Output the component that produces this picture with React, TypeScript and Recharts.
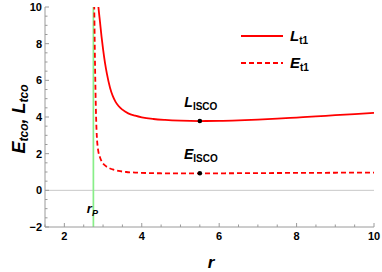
import React from 'react';
import { LineChart, Line, XAxis, YAxis, ReferenceLine, ReferenceDot } from 'recharts';

// L_t1 curve (solid)
const rL = [2.86, 2.88, 2.92, 2.96, 3.0, 3.05, 3.1, 3.18, 3.25, 3.32, 3.4, 3.5, 3.65, 3.83, 4.0, 4.3, 4.6, 5.0, 5.5, 6.0, 6.5, 7.0, 7.5, 8.0, 8.5, 9.0, 9.5, 10];
const lT1 = [10.5, 10.0, 9.2, 8.4, 7.7, 6.95, 6.35, 5.6, 5.15, 4.84, 4.6, 4.4, 4.2, 4.07, 3.98, 3.89, 3.84, 3.8, 3.78, 3.79, 3.82, 3.86, 3.91, 3.97, 4.03, 4.1, 4.16, 4.23];

// E_t1 curve (dashed)
const rE = [2.765, 2.775, 2.79, 2.805, 2.82, 2.84, 2.86, 2.88, 2.92, 2.97, 3.05, 3.15, 3.25, 3.4, 3.6, 3.83, 4.2, 4.6, 5.0, 5.5, 6.0, 7.0, 8.0, 9.0, 10];
const eT1 = [11, 9.6, 7.2, 5.4, 4.0, 2.9, 2.4, 2.1, 1.8, 1.55, 1.36, 1.22, 1.14, 1.06, 1.0, 0.97, 0.94, 0.93, 0.93, 0.93, 0.93, 0.94, 0.95, 0.96, 0.97];

const rIsco = 5.5;
const lIsco = 3.78;
const eIsco = 0.93;
const rP = 2.75;

const xTicks = [1.5, 2, 2.5, 3, 3.5, 4, 4.5, 5, 5.5, 6, 6.5, 7, 7.5, 8, 8.5, 9, 9.5, 10];
const xMajor = [2, 4, 6, 8, 10];
const yTicks = [-2, -1.5, -1, -0.5, 0, 0.5, 1, 1.5, 2, 2.5, 3, 3.5, 4, 4.5, 5, 5.5, 6, 6.5, 7, 7.5, 8, 8.5, 9, 9.5, 10];
const yMajor = [-2, 0, 2, 4, 6, 8, 10];

const lData = rL.map((r, i) => ({ r, v: lT1[i] }));
const eData = rE.map((r, i) => ({ r, v: eT1[i] }));

const FRAME = '#9a9a9a';
const RED = '#ff0000';
const FONT = '"Liberation Sans", Arial, sans-serif';
const tickFont = { fontFamily: FONT, fontWeight: 'bold' as const, fontSize: 11, fill: '#000' };

const fmt = (v: number) => (v < 0 ? '\u2212' + Math.abs(v) : String(v));

const BottomTick = ({ x, y, payload }: any) => {
  const major = xMajor.includes(payload.value);
  return (
    <g>
      <line x1={x} x2={x} y1={y} y2={y - (major ? 4 : 2.5)} stroke={FRAME} />
      {major && (
        <text x={x} y={y + 13} textAnchor="middle" style={tickFont}>
          {fmt(payload.value)}
        </text>
      )}
    </g>
  );
};

const TopTick = ({ x, y, payload }: any) => {
  const major = xMajor.includes(payload.value);
  return <line x1={x} x2={x} y1={y} y2={y + (major ? 4 : 2.5)} stroke={FRAME} />;
};

const LeftTick = ({ x, y, payload }: any) => {
  const major = yMajor.includes(payload.value);
  return (
    <g>
      <line x1={x} x2={x + (major ? 4 : 2.5)} y1={y} y2={y} stroke={FRAME} />
      {major && (
        <text x={x - 3} y={y + 4} textAnchor="end" style={tickFont}>
          {fmt(payload.value)}
        </text>
      )}
    </g>
  );
};

const RightTick = ({ x, y, payload }: any) => {
  const major = yMajor.includes(payload.value);
  return <line x1={x} x2={x - (major ? 4 : 2.5)} y1={y} y2={y} stroke={FRAME} />;
};

const IscoLabel = (main: string) => (props: any) => {
  const vb = props.viewBox || {};
  const cx = vb.x + (vb.width || 0) / 2;
  const cy = vb.y + (vb.height || 0) / 2;
  return (
    <text x={cx + 1} y={cy - 14} textAnchor="middle" style={{ fontFamily: FONT, fontWeight: 'bold', fill: '#000' }}>
      <tspan fontSize={14} fontStyle="italic">{main}</tspan>
      <tspan fontSize={10} dy={3}>ISCO</tspan>
    </text>
  );
};

const RpLabel = (props: any) => {
  const vb = props.viewBox || {};
  return (
    <text x={vb.x - 1} y={vb.y + vb.height - 14} textAnchor="middle" style={{ fontFamily: FONT, fontWeight: 'bold', fontStyle: 'italic', fill: '#000' }}>
      <tspan fontSize={13}>r</tspan>
      <tspan fontSize={9} dy={3}>P</tspan>
    </text>
  );
};

export default function App() {
  return (
    <div style={{ position: 'absolute', left: 0, top: 0, width: 382, height: 272, background: '#fff' }}>
      <LineChart width={382} height={272} margin={{ top: 7, right: 8, bottom: 0, left: 0 }}>
        <XAxis
          type="number"
          dataKey="r"
          domain={[1.5, 10]}
          allowDataOverflow
          ticks={xTicks}
          interval={0}
          tickSize={0}
          tickMargin={0}
          tickLine={false}
          tick={<BottomTick />}
          height={45}
          axisLine={{ stroke: FRAME }}
        />
        <XAxis
          xAxisId="top"
          orientation="top"
          type="number"
          dataKey="r"
          domain={[1.5, 10]}
          allowDataOverflow
          ticks={xTicks}
          interval={0}
          tickSize={0}
          tickMargin={0}
          tickLine={false}
          tick={<TopTick />}
          height={0}
          axisLine={{ stroke: FRAME }}
        />
        <YAxis
          type="number"
          domain={[-2, 10]}
          allowDataOverflow
          ticks={yTicks}
          interval={0}
          tickSize={0}
          tickMargin={0}
          tickLine={false}
          tick={<LeftTick />}
          width={45}
          axisLine={{ stroke: FRAME }}
        />
        <YAxis
          yAxisId="right"
          orientation="right"
          type="number"
          domain={[-2, 10]}
          allowDataOverflow
          ticks={yTicks}
          interval={0}
          tickSize={0}
          tickMargin={0}
          tickLine={false}
          tick={<RightTick />}
          width={0}
          axisLine={{ stroke: FRAME }}
        />
        <ReferenceLine y={0} stroke="#c8c8c8" strokeWidth={1} />
        <ReferenceLine x={rP} stroke="#88ee88" strokeWidth={1.7} label={RpLabel} />
        <Line data={lData} dataKey="v" type="monotone" stroke={RED} strokeWidth={1.8} dot={false} isAnimationActive={false} />
        <Line data={eData} dataKey="v" type="monotone" stroke={RED} strokeWidth={1.8} strokeDasharray="5 3" dot={false} isAnimationActive={false} />
        <ReferenceDot x={rIsco} y={lIsco} r={2.3} fill="#000" stroke="none" label={IscoLabel('L')} />
        <ReferenceDot x={rIsco} y={eIsco} r={2.3} fill="#000" stroke="none" label={IscoLabel('E')} />
      </LineChart>
      <svg width={382} height={272} style={{ position: 'absolute', left: 0, top: 0, pointerEvents: 'none' }}>
        <g style={{ fontFamily: FONT, fontWeight: 'bold', fill: '#000' }}>
          <text transform="rotate(-90 25 119)" x={25} y={119} textAnchor="middle" fontStyle="italic" fontSize={18}>
            <tspan>E</tspan>
            <tspan fontSize={12} dy={3}>tco</tspan>
            <tspan dy={-3}>, L</tspan>
            <tspan fontSize={12} dy={3}>tco</tspan>
          </text>
          <text x={211} y={268} textAnchor="middle" fontStyle="italic" fontSize={17}>r</text>
          <line x1={241} x2={283} y1={36} y2={36} stroke={RED} strokeWidth={1.8} />
          <text x={290} y={41} fontSize={15}>
            <tspan fontStyle="italic">L</tspan>
            <tspan fontSize={10} dy={3}>t1</tspan>
          </text>
          <line x1={241} x2={283} y1={63} y2={63} stroke={RED} strokeWidth={1.8} strokeDasharray="5 3" />
          <text x={290} y={68} fontSize={15}>
            <tspan fontStyle="italic">E</tspan>
            <tspan fontSize={10} dy={3}>t1</tspan>
          </text>
        </g>
      </svg>
    </div>
  );
}
